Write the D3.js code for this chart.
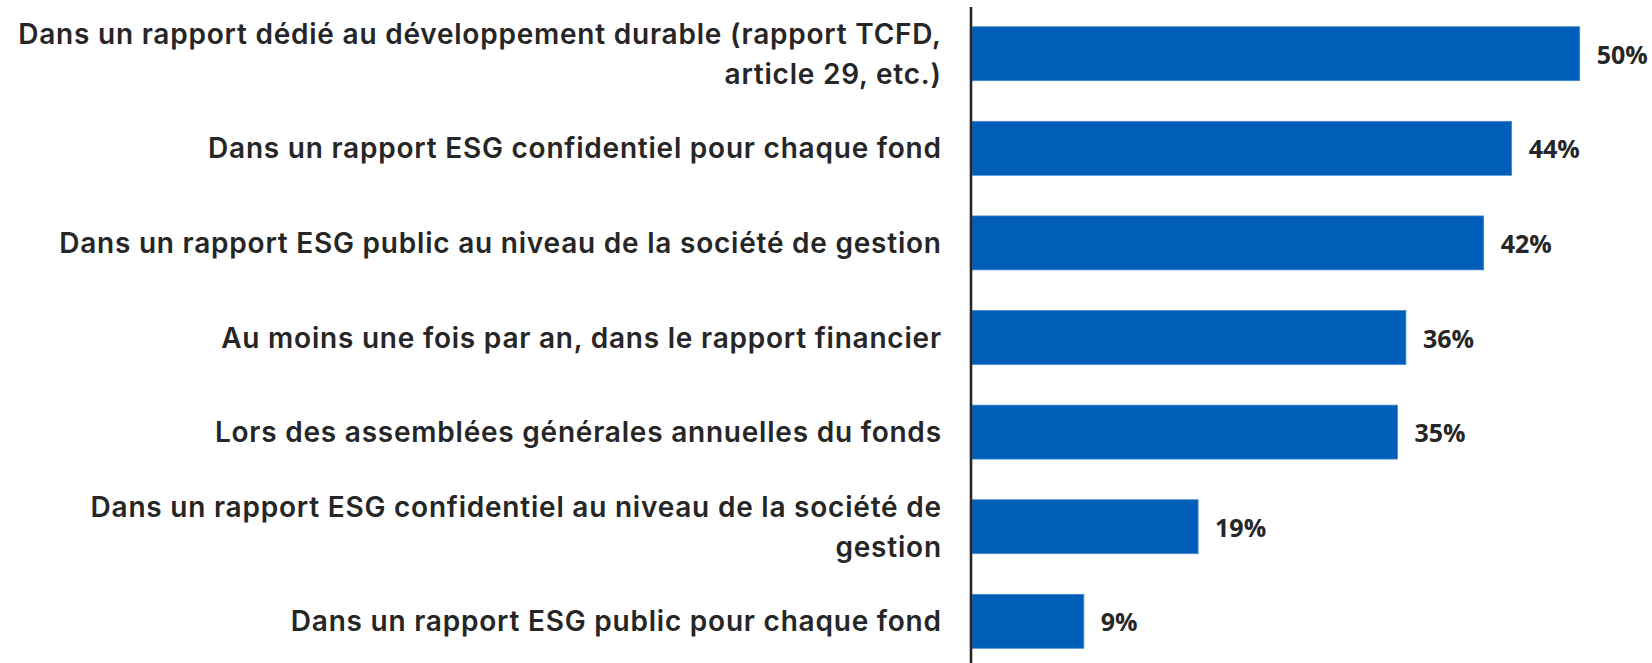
<!DOCTYPE html>
<html>
<head>
<meta charset="utf-8">
<script src="https://cdn.jsdelivr.net/npm/d3@7"></script>
<style>
  html, body { margin: 0; padding: 0; background: #ffffff; }
  svg { display: block; }
</style>
</head>
<body>
<svg id="chart" width="1652" height="663"></svg>
<script>
const categories = [
  "Dans un rapport dédié au développement durable (rapport TCFD,\narticle 29, etc.)",
  "Dans un rapport ESG confidentiel pour chaque fond",
  "Dans un rapport ESG public au niveau de la société de gestion",
  "Au moins une fois par an, dans le rapport financier",
  "Lors des assemblées générales annuelles du fonds",
  "Dans un rapport ESG confidentiel au niveau de la société de\ngestion",
  "Dans un rapport ESG public pour chaque fond"
];
const values = [50, 44.4, 42.1, 35.7, 35.0, 18.6, 9.2];
const valueLabels = ["50%", "44%", "42%", "36%", "35%", "19%", "9%"];

const svg = d3.select("#chart");
const W = 1652, H = 663;
const axisX = 971;

const y = d3.scaleBand()
  .domain(categories)
  .range([6.4, 668.6])
  .paddingInner(0.43)
  .paddingOuter(0.215);

const x = d3.scaleLinear()
  .domain([0, 50])
  .range([axisX + 1, 1579.7]);

// bars
svg.append("g").selectAll("rect")
  .data(categories)
  .join("rect")
  .attr("x", x(0))
  .attr("y", d => y(d))
  .attr("width", (d, i) => x(values[i]) - x(0))
  .attr("height", y.bandwidth())
  .attr("fill", "#005EB8")
  .attr("stroke", "#3f87d3")
  .attr("stroke-width", 0.8);

// value labels
svg.append("g").selectAll("text")
  .data(categories)
  .join("text")
  .attr("x", (d, i) => x(values[i]) + 17)
  .attr("y", d => y(d) + y.bandwidth() / 2 + 1)
  .attr("dy", "0.36em")
  .attr("font-family", "'Open Sans', sans-serif")
  .attr("font-weight", 700)
  .attr("font-size", "25px")
  .attr("fill", "#262626")
  .text((d, i) => valueLabels[i]);

// category labels
const lineH = 39.5;
const labelG = svg.append("g");
categories.forEach(c => {
  const lines = c.split("\n");
  const cy = y(c) + y.bandwidth() / 2;
  const t = labelG.append("text")
    .attr("text-anchor", "end")
    .attr("font-family", "Inter, sans-serif")
    .attr("font-weight", 600)
    .attr("font-size", "28px")
    .attr("letter-spacing", "0.78px")
    .attr("fill", "#262626");
  lines.forEach((ln, k) => {
    t.append("tspan")
      .attr("x", 941.8)
      .attr("y", cy + (k - (lines.length - 1) / 2) * lineH)
      .attr("dy", "0.36em")
      .text(ln);
  });
});

// axis line
svg.append("line")
  .attr("x1", axisX).attr("x2", axisX)
  .attr("y1", 7).attr("y2", H)
  .attr("stroke", "#262626")
  .attr("stroke-width", 2.6);
</script>
</body>
</html>
